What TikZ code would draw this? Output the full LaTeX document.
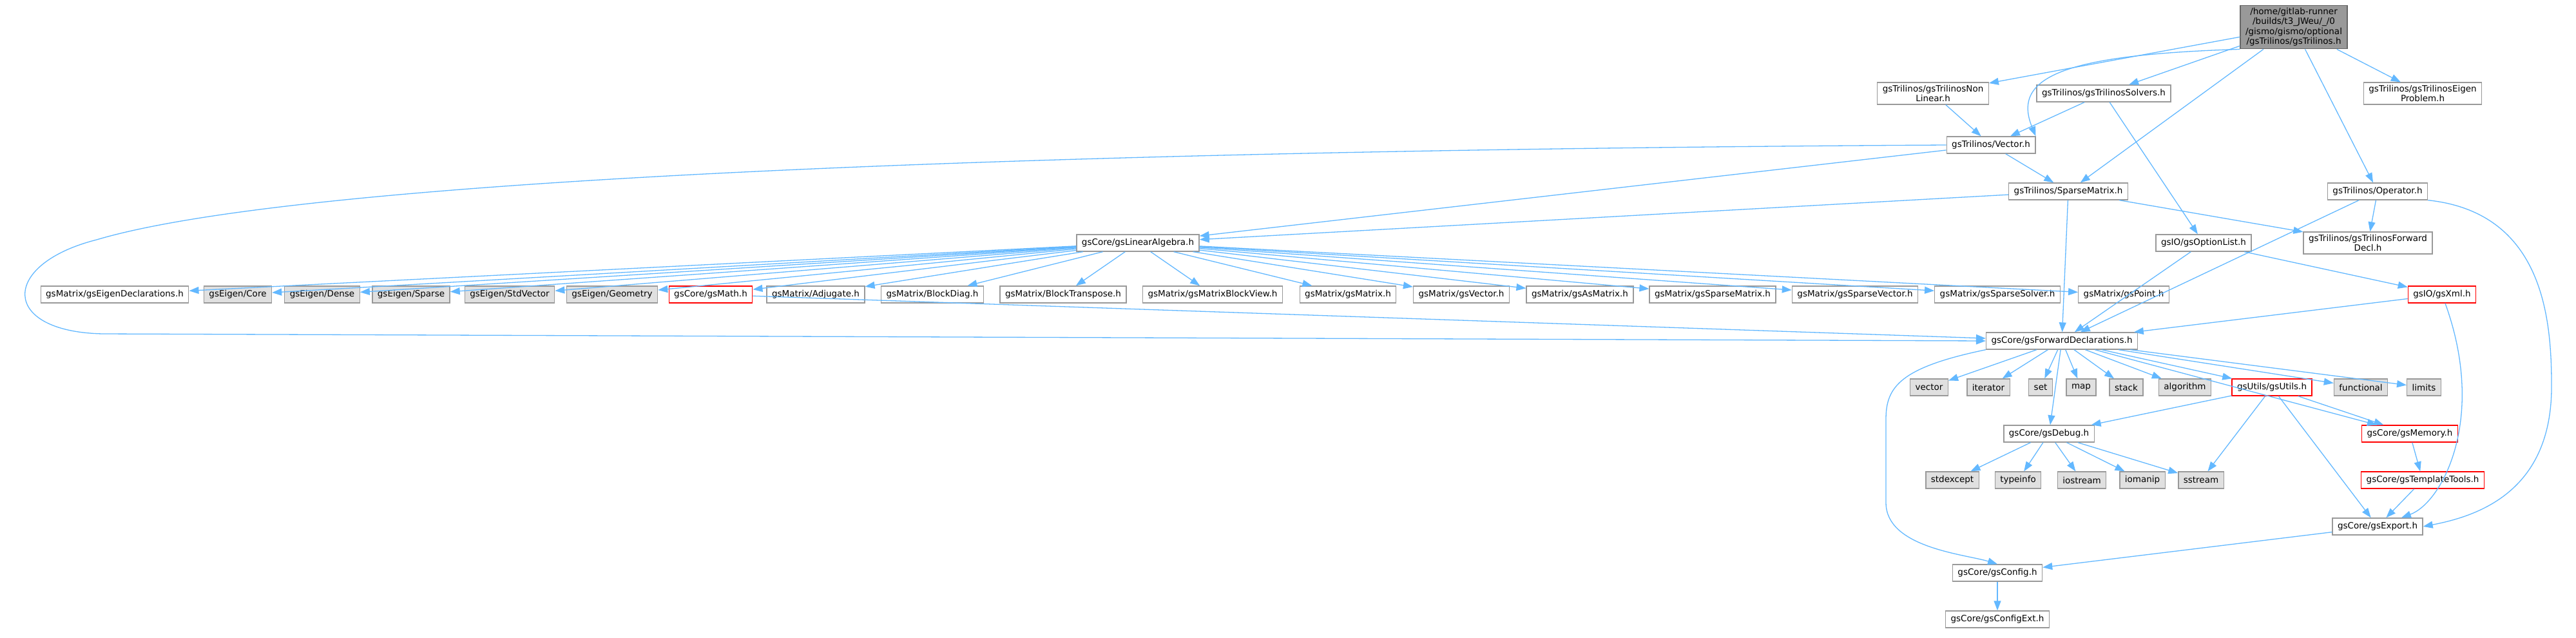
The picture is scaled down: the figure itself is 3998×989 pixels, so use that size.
\documentclass[tikz,border=0pt]{standalone}
\usepackage{fontspec}
\setmainfont{DejaVu Sans}
\usetikzlibrary{arrows.meta}
\definecolor{edgec}{HTML}{63B8FF}
\definecolor{bord}{HTML}{999999}
\definecolor{grayfill}{HTML}{E0E0E0}
\definecolor{topfill}{HTML}{999999}
\definecolor{topbord}{HTML}{666666}
\tikzset{
  hdr/.style={draw=bord, fill=white, line width=1.3pt, inner xsep=8pt, inner ysep=4pt, minimum height=26pt, font=\fontsize{13.5}{15.5}\selectfont, align=center},
  sys/.style={hdr, fill=grayfill},
  trunc/.style={hdr, draw=red},
  topn/.style={hdr, fill=topfill, draw=topbord},
  edge/.style={draw=edgec, line width=1.3pt, -{Triangle[length=15pt,width=11pt]}},
}
\begin{document}
\begin{tikzpicture}[x=1pt,y=-1pt]
\useasboundingbox (0,0) rectangle (3998,989);
% rank 0-4
\node[topn] (top) at (3560,42) {/home/gitlab-runner\\/builds/t3\_JWeu/\_/0\\/gismo/gismo/optional\\/gsTrilinos/gsTrilinos.h};
\node[hdr] (nonlin) at (3000,145) {gsTrilinos/gsTrilinosNon\\Linear.h};
\node[hdr] (solv) at (3265,145) {gsTrilinos/gsTrilinosSolvers.h};
\node[hdr] (eig) at (3760,145) {gsTrilinos/gsTrilinosEigen\\Problem.h};
\node[hdr] (vec) at (3090,225) {gsTrilinos/Vector.h};
\node[hdr] (spm) at (3210,297) {gsTrilinos/SparseMatrix.h};
\node[hdr] (op) at (3690,297) {gsTrilinos/Operator.h};
\node[hdr] (la) at (1766,377) {gsCore/gsLinearAlgebra.h};
\node[hdr] (opt) at (3420,377) {gsIO/gsOptionList.h};
\node[hdr] (tfd) at (3675,377) {gsTrilinos/gsTrilinosForward\\Decl.h};
% rank 5
\node[hdr] (m1) at (178,457) {gsMatrix/gsEigenDeclarations.h};
\node[sys] (m2) at (369,457) {gsEigen/Core};
\node[sys] (m3) at (500,457) {gsEigen/Dense};
\node[sys] (m4) at (638,457) {gsEigen/Sparse};
\node[sys] (m5) at (791,457) {gsEigen/StdVector};
\node[sys] (m6) at (950,457) {gsEigen/Geometry};
\node[trunc] (m7) at (1103,457) {gsCore/gsMath.h};
\node[hdr] (m8) at (1266,457) {gsMatrix/Adjugate.h};
\node[hdr] (m9) at (1447,457) {gsMatrix/BlockDiag.h};
\node[hdr] (m10) at (1650,457) {gsMatrix/BlockTranspose.h};
\node[hdr] (m11) at (1882,457) {gsMatrix/gsMatrixBlockView.h};
\node[hdr] (m12) at (2092,457) {gsMatrix/gsMatrix.h};
\node[hdr] (m13) at (2268,457) {gsMatrix/gsVector.h};
\node[hdr] (m14) at (2452,457) {gsMatrix/gsAsMatrix.h};
\node[hdr] (m15) at (2658,457) {gsMatrix/gsSparseMatrix.h};
\node[hdr] (m16) at (2879,457) {gsMatrix/gsSparseVector.h};
\node[hdr] (m17) at (3100,457) {gsMatrix/gsSparseSolver.h};
\node[hdr] (m18) at (3296,457) {gsMatrix/gsPoint.h};
\node[trunc] (xml) at (3790,457) {gsIO/gsXml.h};
% rank 6
\node[hdr] (fwd) at (3200,529) {gsCore/gsForwardDeclarations.h};
% rank 7
\node[sys] (s1) at (2994,601) {vector};
\node[sys] (s2) at (3086,601) {iterator};
\node[sys] (s3) at (3167,601) {set};
\node[sys] (s4) at (3230,601) {map};
\node[sys] (s5) at (3300,601) {stack};
\node[sys] (s6) at (3391,601) {algorithm};
\node[trunc] (utl) at (3526,601) {gsUtils/gsUtils.h};
\node[sys] (s8) at (3664,601) {functional};
\node[sys] (s9) at (3762,601) {limits};
% rank 8
\node[hdr] (dbg) at (3180,673) {gsCore/gsDebug.h};
\node[trunc] (mem) at (3740,673) {gsCore/gsMemory.h};
% rank 9
\node[sys] (t1) at (3030,745) {stdexcept};
\node[sys] (t2) at (3132,745) {typeinfo};
\node[sys] (t3) at (3231,745) {iostream};
\node[sys] (t4) at (3325,745) {iomanip};
\node[sys] (t5) at (3416,745) {sstream};
\node[trunc] (tmpl) at (3760,745) {gsCore/gsTemplateTools.h};
% rank 10-12
\node[hdr] (exp) at (3690,817) {gsCore/gsExport.h};
\node[hdr] (cfg) at (3100,889) {gsCore/gsConfig.h};
\node[hdr] (cfgx) at (3100,961) {gsCore/gsConfigExt.h};

% edges from top
\foreach \t in {nonlin,solv,spm,op,eig} \draw[edge] (top) -- (\t);
\draw[edge] (top.south west) .. controls (3200,85) and (3122,120) .. (vec.north east);
\draw[edge] (nonlin) -- (vec);
\draw[edge] (solv) -- (vec);
\draw[edge] (solv) -- (opt);
\draw[edge] (vec) -- (la);
\draw[edge] (vec) -- (spm);
\coordinate (vk1) at (150,372);
\coordinate (vk2) at (160,518);
\draw[edge] (vec.west) .. controls (1800,232) and (500,268) .. (vk1) .. controls (0,410) and (0,515) .. (vk2) -- (fwd.west);
\draw[edge] (spm) -- (la);
\draw[edge] (spm) -- (tfd);
\draw[edge] (spm) -- (fwd);
\draw[edge] (op) -- (tfd);
\draw[edge] (op) -- (fwd);
\coordinate (ok1) at (3960,600);
\draw[edge] (op.south east) .. controls (3950,330) and (3960,500) .. (ok1) .. controls (3960,760) and (3850,800) .. (exp.east);
\draw[edge] (opt) -- (fwd);
\draw[edge] (opt) -- (xml);
\draw[edge] (xml) -- (fwd);
\draw[edge] (xml) .. controls (3860,650) and (3790,780) .. (exp);
\foreach \t in {m1,m2,m3,m4,m5,m6,m7,m8,m9,m10,m11,m12,m13,m14,m15,m16,m17,m18} \draw[edge] (la) -- (\t);
\draw[edge] (m7) -- (fwd);
\foreach \t in {s1,s2,s3,s4,s5,s6,utl,s8,s9,dbg,mem} \draw[edge] (fwd) -- (\t);
\coordinate (ck1) at (2927,650);
\coordinate (ck2) at (2927,780);
\draw[edge] (fwd.south west) .. controls (2950,570) and (2927,600) .. (ck1) -- (ck2) .. controls (2927,850) and (3050,860) .. (cfg.north);
\draw[edge] (utl) -- (dbg);
\draw[edge] (utl) -- (mem);
\draw[edge] (utl) -- (t5);
\draw[edge] (utl) -- (exp);
\foreach \t in {t1,t2,t3,t4,t5} \draw[edge] (dbg) -- (\t);
\draw[edge] (mem) -- (tmpl);
\draw[edge] (tmpl) -- (exp);
\draw[edge] (exp) -- (cfg);
\draw[edge] (cfg) -- (cfgx);
\end{tikzpicture}
\end{document}
